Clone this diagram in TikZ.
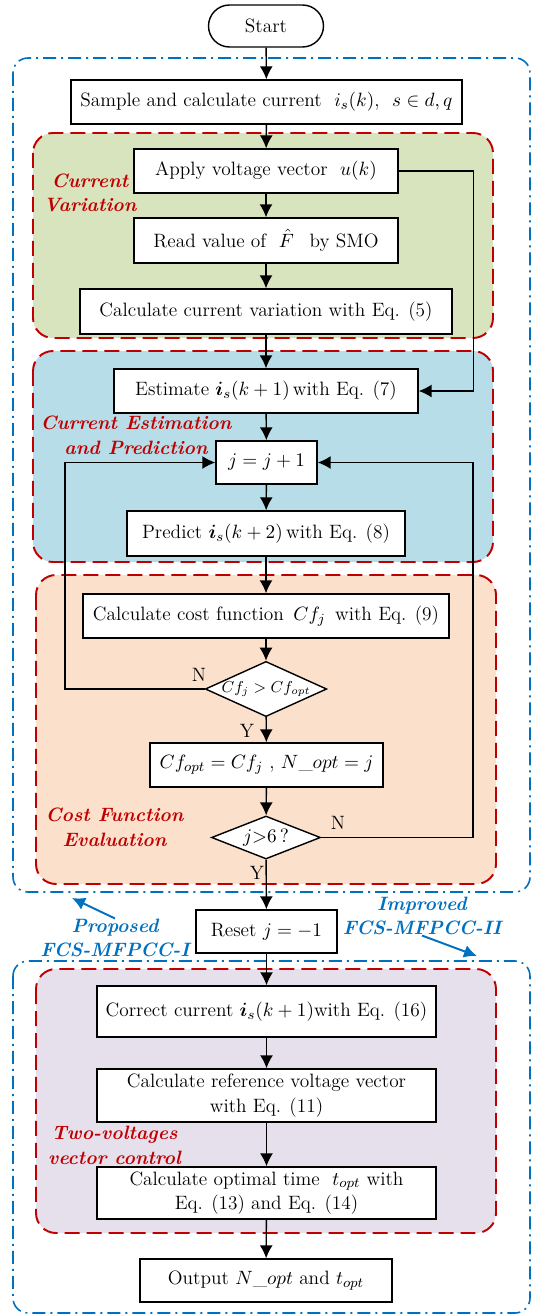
\documentclass[tikz,border=0pt]{standalone}
\usepackage{amsmath}
\usepackage{bm}
\usetikzlibrary{arrows.meta,shapes.geometric}

\definecolor{regred}{RGB}{192,0,0}
\definecolor{regblue}{RGB}{0,112,192}
\definecolor{fillgreen}{RGB}{215,228,189}
\definecolor{fillaqua}{RGB}{183,222,232}
\definecolor{fillorange}{RGB}{251,224,204}
\definecolor{fillpurple}{RGB}{229,224,236}

\begin{document}
\begin{tikzpicture}[x=0.02cm, y=-0.02cm, >={Latex[length=2.6mm,width=2.6mm]},
    box/.style={draw, fill=white, line width=0.8pt, inner sep=2pt, align=center,
        font=\fontsize{11}{14}\selectfont},
    decision/.style={box, shape=diamond, inner sep=0pt, aspect=2.2},
    region/.style={draw=regred, line width=1.1pt, dash pattern=on 0.3cm off 0.14cm,
        rounded corners=0.4cm},
    outer/.style={draw=regblue, line width=0.9pt,
        dash pattern=on 0.26cm off 0.1cm on 0.04cm off 0.1cm, rounded corners=0.3cm},
    tag/.style={inner sep=0pt, align=center, font=\fontsize{11}{14}\selectfont\bfseries\itshape},
    flow/.style={->, line width=0.8pt}]

    \useasboundingbox (0,0) rectangle (535,1315);

    % =================================================================
    % KHUNG NGOAI VA CAC VUNG MAU
    % =================================================================
    \draw[outer] (13,58) rectangle (530,892);
    \draw[outer] (13,961) rectangle (530,1313);

    \draw[region, fill=fillgreen]  (33,133) rectangle (493,338);
    \draw[region, fill=fillaqua]   (33,351) rectangle (493,562);
    \draw[region, fill=fillorange] (36,575) rectangle (496,884);
    \draw[region, fill=fillpurple] (36,969) rectangle (496,1233);

    % Nhan cua tung vung
    \node[tag, text=regred] (tcv) at (90,193) {Current\\Variation};
    \node[tag, text=regred] (tce) at (136,435.5) {Current Estimation\\and Prediction};
    \node[tag, text=regred] (tcf) at (114.5,827.5) {Cost Function\\Evaluation};
    \node[tag, text=regred] (ttv) at (114.5,1145.5) {Two-voltages\\vector control};

    % =================================================================
    % CAC KHOI CUA LUU DO
    % =================================================================
    \node[box, rounded corners=0.42cm, minimum width=2.3cm, minimum height=0.84cm]
        (start) at (266,26) {Start};
    \node[box, minimum width=7.82cm, minimum height=0.88cm] (sample) at (266.5,102)
        {Sample and calculate current \ $i_s(k)$, \ $s\in d,q$};
    \node[box, minimum width=5.28cm, minimum height=0.88cm] (apply) at (266,171)
        {Apply voltage vector \ $u(k)$};
    \node[box, minimum width=5.28cm, minimum height=0.9cm] (read) at (266,240.5)
        {Read value of \ $\hat{F}$\ \, by SMO};
    \node[box, minimum width=7.44cm, minimum height=0.9cm] (vari) at (266,311.5)
        {Calculate current variation with Eq. (5)};
    \node[box, minimum width=6.08cm, minimum height=0.88cm] (estim) at (266,391)
        {Estimate $\bm{i}_s(k+1)$\,with Eq. (7)};
    \node[box, minimum width=2.02cm, minimum height=0.86cm] (jinc) at (266.5,462.5)
        {$j=j+1$};
    \node[box, minimum width=5.56cm, minimum height=0.9cm] (pred) at (266,533.5)
        {Predict $\bm{i}_s(k+2)$\,with Eq. (8)};
    \node[box, minimum width=7.32cm, minimum height=0.88cm] (cost) at (266,616)
        {Calculate cost function \,$Cf_j$\, with Eq. (9)};
    \node[decision, minimum width=2.28cm, minimum height=1.04cm] (dec1) at (266,689)
        {\small$Cf_j>Cf_{opt}$};
    \node[box, minimum width=4.66cm, minimum height=0.88cm] (cfopt) at (266.5,765)
        {$Cf_{opt}=Cf_j$\ , $N\_opt=j$};
    \node[decision, minimum width=2.18cm, minimum height=0.86cm] (dec2) at (266,837.5)
        {$j{>}6\,?$};
    \node[box, minimum width=2.82cm, minimum height=0.86cm] (reset) at (266.5,931.5)
        {Reset $j=-1$};
    \node[box, minimum width=6.78cm, minimum height=1.02cm] (correct) at (266.5,1011.5)
        {Correct current $\bm{i}_s(k+1)$with Eq. (16)};
    \node[box, minimum width=6.78cm, minimum height=1.06cm] (refv) at (266.5,1095.5)
        {Calculate reference voltage vector\\with Eq. (11)};
    \node[box, minimum width=6.78cm, minimum height=1.04cm] (topt) at (266.5,1193)
        {Calculate optimal time \ $t_{opt}$ with\\Eq. (13) and Eq. (14)};
    \node[box, minimum width=5.04cm, minimum height=0.86cm] (output) at (266,1280.5)
        {Output $N\_opt$ and $t_{opt}$};

    % =================================================================
    % DUONG NOI
    % =================================================================
    \draw[flow] (start) -- (sample);
    \draw[flow] (sample) -- (apply);
    \draw[flow] (apply) -- (read);
    \draw[flow] (read) -- (vari);
    \draw[flow] (vari) -- (estim);
    \draw[flow] (apply.east) -- ++(75,0) |- (estim.east);
    \draw[flow] (estim) -- (jinc);
    \draw[flow] (jinc) -- (pred);
    \draw[flow] (pred) -- (cost);
    \draw[flow] (cost) -- (dec1);
    \draw[flow] (dec1) -- (cfopt);
    \draw[flow] (cfopt) -- (dec2);
    \draw[flow] (dec2) -- (reset);
    \draw[flow] (reset) -- (correct);
    \draw[flow] (correct) -- (refv);
    \draw[flow] (refv) -- (topt);
    \draw[flow] (topt) -- (output);

    % Hai vong lap ve khoi j = j + 1
    \coordinate (lx) at (65,462.5);
    \coordinate (rx) at (473,462.5);
    \draw[flow] (dec1.west) -| (lx) -- (jinc.west);
    \draw[flow] (dec2.east) -| (rx) -- (jinc.east);

    % Nhan Y / N
    \node[font=\fontsize{11}{14}\selectfont] (n1) at (199,675) {N};
    \node[font=\fontsize{11}{14}\selectfont] (y1) at (247,731) {Y};
    \node[font=\fontsize{11}{14}\selectfont] (n2) at (338,823) {N};
    \node[font=\fontsize{11}{14}\selectfont] (y2) at (257,873) {Y};

    % =================================================================
    % CHU THICH HAI PHUONG PHAP
    % =================================================================
    \node[tag, text=regblue] (lprop) at (115,938) {Proposed\\FCS-MFPCC-I};
    \node[tag, text=regblue] (limp) at (422,916) {Improved\\FCS-MFPCC-II};
    \coordinate (pa) at (72,898);
    \coordinate (ia) at (477,956);
    \draw[->, regblue, line width=1.1pt] (lprop.north) -- (pa);
    \draw[->, regblue, line width=1.1pt] (limp.south) -- (ia);

\end{tikzpicture}
\end{document}
